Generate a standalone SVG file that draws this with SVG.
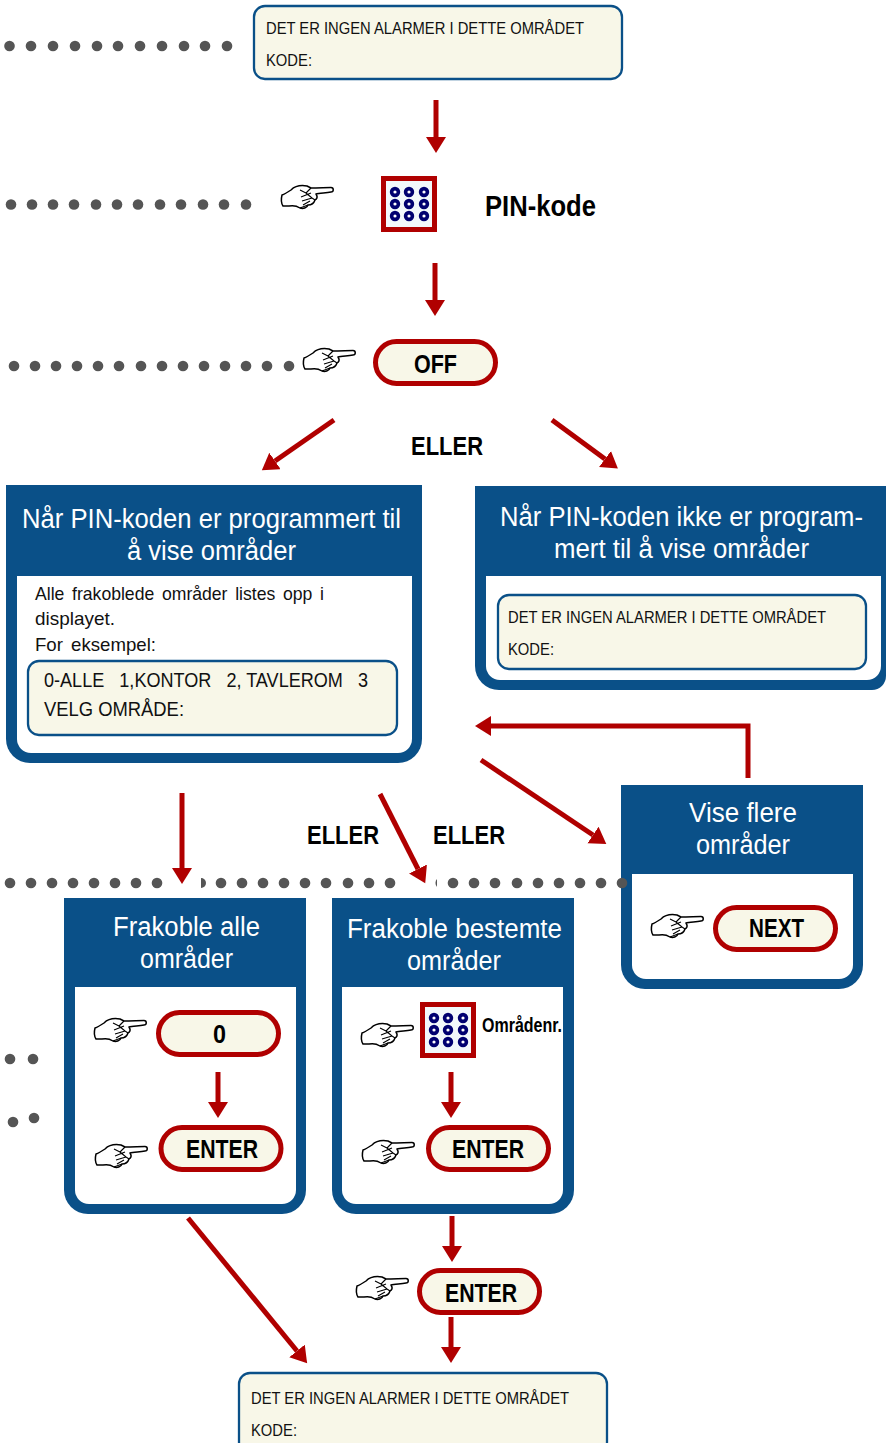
<svg xmlns="http://www.w3.org/2000/svg" width="886" height="1443" viewBox="0 0 886 1443">
<style>
text{font-family:"Liberation Sans",Arial,sans-serif;white-space:pre}
.d{font-size:17px;fill:#111}
.e{font-size:20px;fill:#111}
.p{font-size:18.500px;fill:#111;word-spacing:3px}
.h{font-size:27px;fill:#fff}
.b{font-size:26px;font-weight:bold;fill:#000}
.disp{fill:#f8f7e8;stroke:#0a5088;stroke-width:2.300}
.pill{fill:#f8f7e8;stroke:#b00000;stroke-width:5}
.pb{fill:#0a5088}
.ib{fill:#fff}
.ar{stroke:#b00000;stroke-width:5;fill:none;marker-end:url(#ah)}
.dot{fill:#555}
</style>
<defs>
<marker id="ah" markerUnits="userSpaceOnUse" markerWidth="22" markerHeight="22" refX="0" refY="10" orient="auto"><path d="M0 0L16 10L0 20z" fill="#b00000"/></marker>
<g id="hand" fill="#fff" stroke="#000" stroke-width="1.500" stroke-linejoin="round">
<path d="M1 10C4 9 7 7 10 5C14 1 20 0 26 1L30 3C37 3 45 2.500 50 2.500C53 2.500 53 7 50 7C44 8 38 8 35 9C37 12 36 14 34 15C33 18 30 20 27 20C26 23 22 24 19 23C16 21 13 20 8 21L2 21C0 18 0 14 1 10Z"/>
<path d="M19 5L25 8L30 3M25 8L31 13L34 15M20 12L30 8M21 16L31 13M22 20L29 16M19 23L27 20" fill="none" stroke-width="1.100"/>
</g>
<g id="keypad">
<rect x="2.500" y="2.500" width="51" height="51" fill="#f2f8fb" stroke="#b00000" stroke-width="5"/>
<g fill="#fff" stroke="#000070" stroke-width="3.600">
<circle cx="14" cy="16" r="3.400"/><circle cx="28" cy="16" r="3.400"/><circle cx="43" cy="16" r="3.400"/>
<circle cx="14" cy="28" r="3.400"/><circle cx="28" cy="28" r="3.400"/><circle cx="43" cy="28" r="3.400"/>
<circle cx="14" cy="40" r="3.400"/><circle cx="28" cy="40" r="3.400"/><circle cx="43" cy="40" r="3.400"/>
</g>
</g>
</defs>

<g id="display-top">
<rect class="disp" x="254" y="6" width="368" height="73" rx="11"/>
<text class="d" x="266" y="34" textLength="318" lengthAdjust="spacingAndGlyphs">DET ER INGEN ALARMER I DETTE OMRÅDET</text>
<text class="d" x="266" y="66" textLength="46" lengthAdjust="spacingAndGlyphs">KODE:</text>
</g>
<g id="pin">
<use href="#hand" x="281" y="185"/>
<use href="#keypad" x="381" y="176"/>
<text x="485" y="216" font-size="30" font-weight="bold" textLength="111" lengthAdjust="spacingAndGlyphs">PIN-kode</text>
</g>
<g id="off">
<use href="#hand" x="303" y="348"/>
<rect class="pill" x="375.500" y="341.500" width="120" height="42" rx="21"/>
<text class="b" x="414" y="373" textLength="43" lengthAdjust="spacingAndGlyphs">OFF</text>
</g>

<g id="panel-programmert">
<path class="pb" d="M6 485H422V739a24 24 0 0 1-24 24H30a24 24 0 0 1-24-24z"/>
<path class="ib" d="M17 576H412V739a14 14 0 0 1-14 14H31a14 14 0 0 1-14-14z"/>
<text class="h" x="22" y="528" textLength="379" lengthAdjust="spacingAndGlyphs">Når PIN-koden er programmert til</text>
<text class="h" x="127" y="560" textLength="169" lengthAdjust="spacingAndGlyphs">å vise områder</text>
<text class="p" x="35" y="600" textLength="289" lengthAdjust="spacingAndGlyphs">Alle frakoblede områder listes opp i</text>
<text class="p" x="35" y="625" textLength="80" lengthAdjust="spacingAndGlyphs">displayet.</text>
<text class="p" x="35" y="651" textLength="121" lengthAdjust="spacingAndGlyphs">For eksempel:</text>
<rect class="disp" x="28" y="661" width="369" height="74" rx="11"/>
<text class="e" x="44" y="687" textLength="324" lengthAdjust="spacingAndGlyphs">0-ALLE   1,KONTOR   2, TAVLEROM   3</text>
<text class="e" x="44" y="716" textLength="140" lengthAdjust="spacingAndGlyphs">VELG OMRÅDE:</text>
</g>

<g id="panel-ikke">
<path class="pb" d="M475 486H886V676a14 14 0 0 1-14 14H499a24 24 0 0 1-24-24z"/>
<path class="ib" d="M486 576H881V666a14 14 0 0 1-14 14H500a14 14 0 0 1-14-14z"/>
<text class="h" x="500" y="526" textLength="363" lengthAdjust="spacingAndGlyphs">Når PIN-koden ikke er program-</text>
<text class="h" x="554" y="558" textLength="255" lengthAdjust="spacingAndGlyphs">mert til å vise områder</text>
<rect class="disp" x="498" y="595" width="368" height="74" rx="11"/>
<text class="d" x="508" y="623" textLength="318" lengthAdjust="spacingAndGlyphs">DET ER INGEN ALARMER I DETTE OMRÅDET</text>
<text class="d" x="508" y="655" textLength="46" lengthAdjust="spacingAndGlyphs">KODE:</text>
</g>

<g id="panel-vise">
<path class="pb" d="M621 785H863V965a24 24 0 0 1-24 24H645a24 24 0 0 1-24-24z"/>
<path class="ib" d="M632 874H853V965a14 14 0 0 1-14 14H646a14 14 0 0 1-14-14z"/>
<text class="h" x="689" y="822" textLength="108" lengthAdjust="spacingAndGlyphs">Vise flere</text>
<text class="h" x="696" y="854" textLength="94" lengthAdjust="spacingAndGlyphs">områder</text>
<use href="#hand" x="651" y="914"/>
<rect class="pill" x="715.500" y="907.500" width="120" height="42" rx="21"/>
<text class="b" x="749" y="937" textLength="55" lengthAdjust="spacingAndGlyphs">NEXT</text>
</g>

<g id="panel-alle">
<path class="pb" d="M64 898H306V1190a24 24 0 0 1-24 24H88a24 24 0 0 1-24-24z"/>
<path class="ib" d="M75 987H296V1190a14 14 0 0 1-14 14H89a14 14 0 0 1-14-14z"/>
<text class="h" x="113" y="936" textLength="147" lengthAdjust="spacingAndGlyphs">Frakoble alle</text>
<text class="h" x="140" y="968" textLength="93" lengthAdjust="spacingAndGlyphs">områder</text>
<use href="#hand" x="94" y="1018"/>
<rect class="pill" x="158.500" y="1012.500" width="120" height="42" rx="21"/>
<text class="b" x="213" y="1043" textLength="13" lengthAdjust="spacingAndGlyphs">0</text>
<use href="#hand" x="95" y="1144"/>
<rect class="pill" x="161" y="1127.500" width="120" height="42" rx="21"/>
<text class="b" x="186" y="1158" textLength="72" lengthAdjust="spacingAndGlyphs">ENTER</text>
</g>

<g id="panel-bestemte">
<path class="pb" d="M332 898H574V1190a24 24 0 0 1-24 24H356a24 24 0 0 1-24-24z"/>
<path class="ib" d="M342 987H563V1190a14 14 0 0 1-14 14H356a14 14 0 0 1-14-14z"/>
<text class="h" x="347" y="938" textLength="215" lengthAdjust="spacingAndGlyphs">Frakoble bestemte</text>
<text class="h" x="407" y="970" textLength="94" lengthAdjust="spacingAndGlyphs">områder</text>
<use href="#hand" x="361" y="1023"/>
<use href="#keypad" x="420" y="1002"/>
<text x="482" y="1032" font-size="20" font-weight="bold" textLength="80" lengthAdjust="spacingAndGlyphs">Områdenr.</text>
<use href="#hand" x="362" y="1140"/>
<rect class="pill" x="428.500" y="1127.500" width="120" height="42" rx="21"/>
<text class="b" x="452" y="1158" textLength="72" lengthAdjust="spacingAndGlyphs">ENTER</text>
</g>

<g id="enter-final">
<use href="#hand" x="356" y="1276"/>
<rect class="pill" x="419.500" y="1270.500" width="120" height="42" rx="21"/>
<text class="b" x="445" y="1302" textLength="72" lengthAdjust="spacingAndGlyphs">ENTER</text>
</g>

<g id="display-bottom">
<rect class="disp" x="239" y="1373" width="368" height="80" rx="11"/>
<text class="d" x="251" y="1404" textLength="318" lengthAdjust="spacingAndGlyphs">DET ER INGEN ALARMER I DETTE OMRÅDET</text>
<text class="d" x="251" y="1436" textLength="46" lengthAdjust="spacingAndGlyphs">KODE:</text>
</g>

<g id="labels">
<text class="b" x="411" y="455" textLength="72" lengthAdjust="spacingAndGlyphs">ELLER</text>
<text class="b" x="307" y="844" textLength="72" lengthAdjust="spacingAndGlyphs">ELLER</text>
<text class="b" x="433" y="844" textLength="72" lengthAdjust="spacingAndGlyphs">ELLER</text>
</g>

<g id="dots" class="dot">
<circle cx="9.500" cy="46" r="5.300"/><circle cx="31" cy="46" r="5.300"/><circle cx="53" cy="46" r="5.300"/><circle cx="75" cy="46" r="5.300"/><circle cx="97" cy="46" r="5.300"/><circle cx="118" cy="46" r="5.300"/><circle cx="140" cy="46" r="5.300"/><circle cx="162" cy="46" r="5.300"/><circle cx="184" cy="46" r="5.300"/><circle cx="205" cy="46" r="5.300"/><circle cx="227" cy="46" r="5.300"/>
<circle cx="11" cy="204.500" r="5.300"/><circle cx="32" cy="204.500" r="5.300"/><circle cx="53" cy="204.500" r="5.300"/><circle cx="74" cy="204.500" r="5.300"/><circle cx="96" cy="204.500" r="5.300"/><circle cx="117" cy="204.500" r="5.300"/><circle cx="138" cy="204.500" r="5.300"/><circle cx="160" cy="204.500" r="5.300"/><circle cx="181" cy="204.500" r="5.300"/><circle cx="203" cy="204.500" r="5.300"/><circle cx="224" cy="204.500" r="5.300"/><circle cx="246" cy="204.500" r="5.300"/>
<circle cx="14" cy="366" r="5.300"/><circle cx="35" cy="366" r="5.300"/><circle cx="56" cy="366" r="5.300"/><circle cx="77" cy="366" r="5.300"/><circle cx="98" cy="366" r="5.300"/><circle cx="119" cy="366" r="5.300"/><circle cx="141" cy="366" r="5.300"/><circle cx="162" cy="366" r="5.300"/><circle cx="183" cy="366" r="5.300"/><circle cx="204" cy="366" r="5.300"/><circle cx="225" cy="366" r="5.300"/><circle cx="246" cy="366" r="5.300"/><circle cx="267" cy="366" r="5.300"/><circle cx="289" cy="366" r="5.300"/>
<circle cx="10" cy="883" r="5.300"/><circle cx="31" cy="883" r="5.300"/><circle cx="52" cy="883" r="5.300"/><circle cx="73" cy="883" r="5.300"/><circle cx="94" cy="883" r="5.300"/><circle cx="115" cy="883" r="5.300"/><circle cx="136" cy="883" r="5.300"/><circle cx="157" cy="883" r="5.300"/>
<path d="M201 878a5 5 0 0 1 0 10z"/>
<circle cx="221" cy="883" r="5.300"/><circle cx="242" cy="883" r="5.300"/><circle cx="263" cy="883" r="5.300"/><circle cx="284" cy="883" r="5.300"/><circle cx="305" cy="883" r="5.300"/><circle cx="326" cy="883" r="5.300"/><circle cx="348" cy="883" r="5.300"/><circle cx="369" cy="883" r="5.300"/><circle cx="390" cy="883" r="5.300"/>
<path d="M437 879a6 6 0 0 0 0 8z"/>
<circle cx="453" cy="883" r="5.300"/><circle cx="474" cy="883" r="5.300"/><circle cx="495" cy="883" r="5.300"/><circle cx="517" cy="883" r="5.300"/><circle cx="538" cy="883" r="5.300"/><circle cx="559" cy="883" r="5.300"/><circle cx="580" cy="883" r="5.300"/><circle cx="601" cy="883" r="5.300"/><circle cx="622" cy="883" r="5.300"/>
<circle cx="10" cy="1059" r="5.300"/><circle cx="33" cy="1059" r="5.300"/><circle cx="13" cy="1122" r="5.300"/><circle cx="34" cy="1118" r="5.300"/>
</g>

<g id="connectors">
<path class="ar" d="M436 100V137"/>
<path class="ar" d="M435 263V300"/>
<path class="ar" d="M334 420L275 461"/>
<path class="ar" d="M552 420L605 459"/>
<path class="ar" d="M182 793V868"/>
<path class="ar" d="M380 794L418 869"/>
<path class="ar" d="M481 760L593 835"/>
<path class="ar" d="M748 778V726H491"/>
<path class="ar" d="M218 1072V1102"/>
<path class="ar" d="M451 1072V1102"/>
<path class="ar" d="M188 1218L297 1351"/>
<path class="ar" d="M452 1216V1246"/>
<path class="ar" d="M451 1317V1347"/>
</g>
</svg>
